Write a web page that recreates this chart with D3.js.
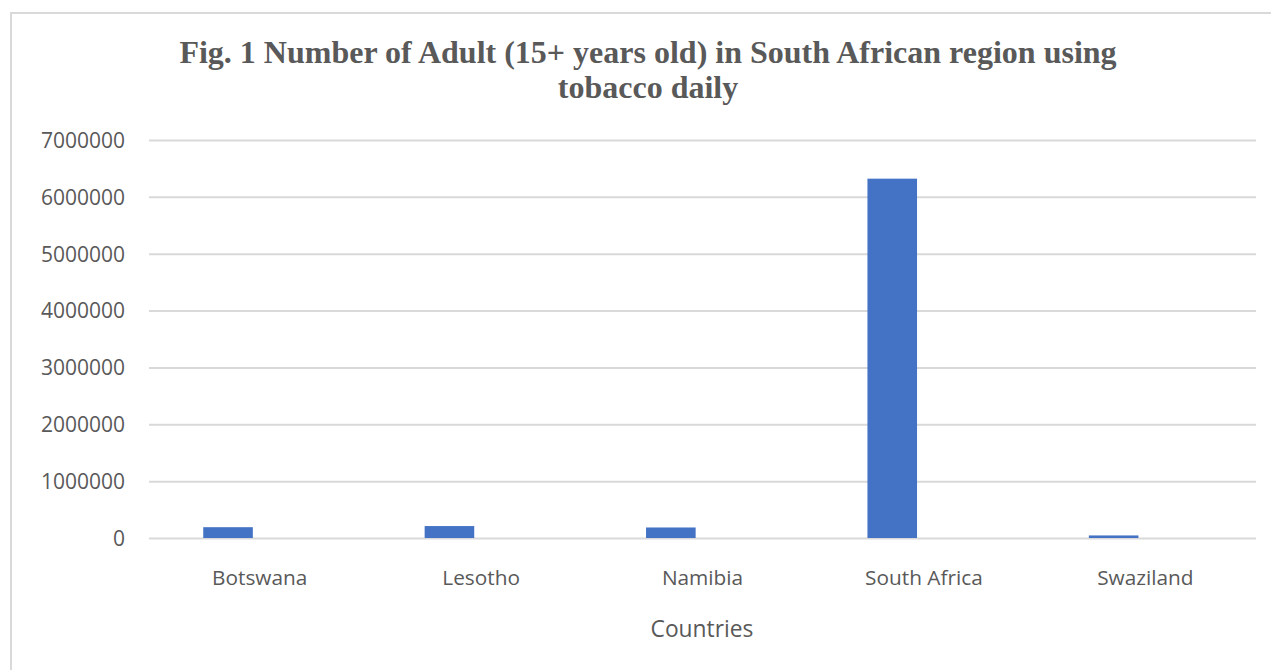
<!DOCTYPE html>
<html>
<head>
<meta charset="utf-8">
<script src="https://cdn.jsdelivr.net/npm/d3@7"></script>
<style>
html,body{margin:0;padding:0;background:#fff;}
svg{display:block;}
</style>
</head>
<body>
<svg id="chart" width="1271" height="670"></svg>
<script>
const categories = ["Botswana", "Lesotho", "Namibia", "South Africa", "Swaziland"];
const seriesNames = ["Daily tobacco users", "Series 2"];
const dailyUsers = [190000, 210000, 185000, 6320000, 45000];
const series2 = [0, 0, 0, 0, 0];
const yTicks = [0, 1000000, 2000000, 3000000, 4000000, 5000000, 6000000, 7000000];
const titleLines = ["Fig. 1 Number of Adult (15+ years old) in South African region using", "tobacco daily"];
const xAxisTitle = "Countries";

const svg = d3.select("#chart");
const textColor = "#595959";
const gridColor = "#d9d9d9";
const barColor = "#4472C4";

// outer chart border
svg.append("rect").attr("x", 11).attr("y", 13).attr("width", 1280).attr("height", 700)
  .attr("fill", "none").attr("stroke", gridColor).attr("stroke-width", 2);

const plot = {left: 149, right: 1256, top: 140, bottom: 538};

const x = d3.scaleBand().domain(categories).range([plot.left, plot.right]).paddingInner(0).paddingOuter(0);
const bw = x.bandwidth();
const x1 = d3.scaleBand().domain(seriesNames).range([0.245 * bw, 0.245 * bw + 2 * 0.224 * bw]).padding(0);
const y = d3.scaleLinear().domain([0, 7000000]).range([plot.bottom, plot.top]);

// gridlines + y labels
const yAxis = d3.axisLeft(y).tickValues(yTicks).tickSize(-(plot.right - plot.left)).tickPadding(24)
  .tickFormat(d3.format("d"));
const gy = svg.append("g").attr("transform", `translate(${plot.left},0)`).call(yAxis);
gy.select(".domain").remove();
gy.selectAll(".tick line").attr("stroke", gridColor).attr("stroke-width", 2);
gy.selectAll(".tick text").attr("fill", textColor).attr("font-family", "'Open Sans', sans-serif")
  .attr("font-size", 21).attr("dy", "0.35em");

// bars
const data = categories.map((c, i) => ({cat: c, vals: [dailyUsers[i], series2[i]]}));
const groups = svg.append("g").selectAll("g").data(data).join("g")
  .attr("transform", d => `translate(${x(d.cat)},0)`);
groups.selectAll("rect").data(d => d.vals.map((v, j) => ({name: seriesNames[j], v})))
  .join("rect")
  .filter(d => d.v > 0)
  .attr("x", d => x1(d.name))
  .attr("width", x1.bandwidth())
  .attr("y", d => y(d.v))
  .attr("height", d => y(0) - y(d.v))
  .attr("fill", barColor);

// x axis labels
const xAxis = d3.axisBottom(x).tickSize(0).tickPadding(0);
const gx = svg.append("g").attr("transform", `translate(0,${plot.bottom})`).call(xAxis);
gx.select(".domain").remove();
gx.selectAll(".tick text").attr("fill", textColor).attr("font-family", "'Open Sans', sans-serif")
  .attr("font-size", 20.8).attr("y", 47).attr("dy", 0);

// x axis title
svg.append("text").attr("x", 702).attr("y", 637).attr("text-anchor", "middle")
  .attr("fill", textColor).attr("font-family", "'Open Sans', sans-serif").attr("font-size", 22.8)
  .text(xAxisTitle);

// title
svg.append("g").selectAll("text").data(titleLines).join("text")
  .attr("x", 648).attr("y", (d, i) => 63 + i * 35).attr("text-anchor", "middle")
  .attr("fill", textColor).attr("font-family", "'Liberation Serif', 'Times New Roman', serif")
  .attr("font-weight", "bold").attr("font-size", 32)
  .text(d => d);
</script>
</body>
</html>
